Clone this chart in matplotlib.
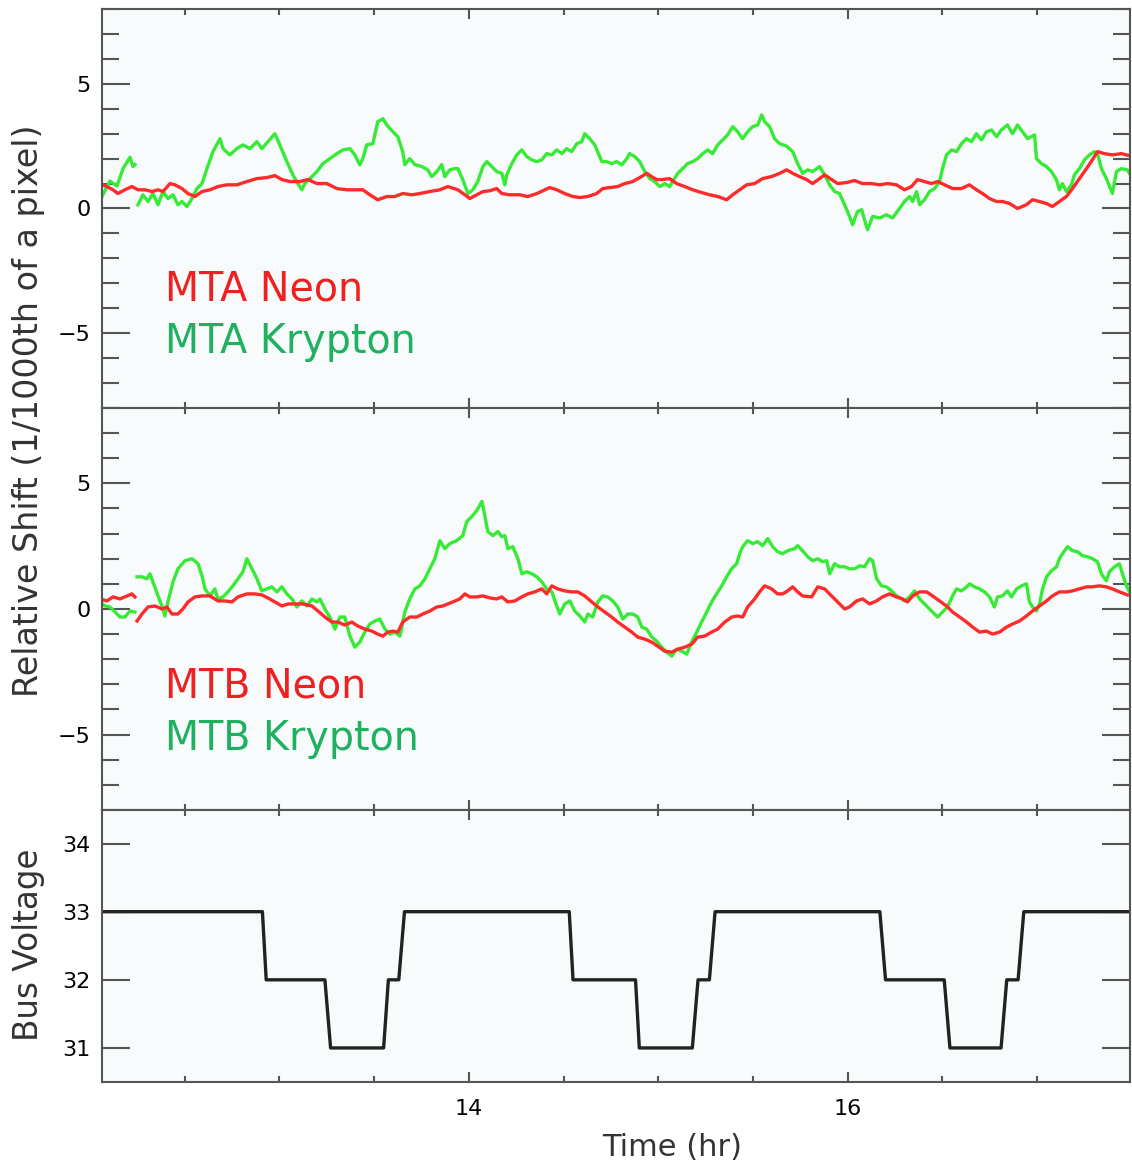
import numpy as np
import matplotlib.pyplot as plt
from matplotlib.ticker import MultipleLocator

nan = np.nan

# ---- MTA (top panel) ----
mta_ne_t = [12.063, 12.089, 12.121, 12.147, 12.184, 12.221, 12.253, 12.290, 12.327, 12.359,
            12.385, 12.422, 12.448, 12.485, 12.517, 12.554, 12.591, 12.633, 12.675, 12.723,
            12.775, 12.828, 12.881, 12.934, 12.976, 13.013, 13.055, 13.108, 13.150, 13.198,
            13.250, 13.303, 13.356, 13.409, 13.440, 13.477, 13.519, 13.567, 13.609, 13.651,
            13.699, 13.741, 13.794, 13.847, 13.889, 13.942, 13.979, 14.005, 14.042, 14.074,
            14.111, 14.147, 14.174, 14.216, 14.269, 14.311, 14.359, 14.390, 14.427, 14.464,
            14.506, 14.549, 14.586, 14.628, 14.675, 14.707, 14.744, 14.786, 14.823, 14.865,
            14.902, 14.939, 14.965, 14.992, 15.023, 15.060, 15.097, 15.140, 15.182, 15.229,
            15.271, 15.314, 15.361, 15.393, 15.430, 15.467, 15.509, 15.551, 15.598, 15.641,
            15.678, 15.710, 15.746, 15.783, 15.815, 15.852, 15.878, 15.915, 15.947, 15.994,
            16.036, 16.079, 16.126, 16.169, 16.211, 16.258, 16.300, 16.337, 16.369, 16.406,
            16.443, 16.475, 16.512, 16.554, 16.601, 16.643, 16.680, 16.712, 16.749, 16.786,
            16.818, 16.855, 16.897, 16.944, 16.976, 17.013, 17.050, 17.081, 17.118, 17.155,
            17.187, 17.224, 17.261, 17.292, 17.319, 17.356, 17.398, 17.445, 17.488]
mta_ne = [0.95, 0.88, 0.75, 0.6, 0.75, 0.88, 0.75, 0.75, 0.68, 0.75,
          0.68, 1.0, 0.95, 0.8, 0.6, 0.48, 0.68, 0.75, 0.88, 0.95,
          0.95, 1.08, 1.2, 1.24, 1.32, 1.16, 1.08, 1.08, 1.16, 1.0,
          1.0, 0.8, 0.75, 0.75, 0.75, 0.55, 0.35, 0.48, 0.48, 0.6,
          0.55, 0.6, 0.68, 0.75, 0.88, 0.75, 0.55, 0.4, 0.55, 0.68,
          0.71, 0.8, 0.6, 0.55, 0.55, 0.48, 0.6, 0.71, 0.84, 0.75,
          0.6, 0.48, 0.44, 0.48, 0.6, 0.8, 0.84, 0.88, 1.0, 1.08,
          1.24, 1.41, 1.28, 1.16, 1.16, 1.2, 1.0, 0.88, 0.75, 0.64,
          0.55, 0.48, 0.35, 0.55, 0.75, 0.95, 1.0, 1.2, 1.28, 1.41,
          1.55, 1.41, 1.28, 1.16, 1.0, 1.2, 1.35, 1.16, 1.0, 1.04,
          1.12, 1.0, 1.0, 0.95, 1.0, 0.95, 0.75, 0.88, 1.16, 1.08,
          1.0, 1.08, 0.95, 0.8, 0.8, 0.95, 0.75, 0.6, 0.4, 0.28,
          0.28, 0.2, 0.0, 0.15, 0.35, 0.28, 0.2, 0.08, 0.28, 0.48,
          0.8, 1.2, 1.6, 1.95, 2.28, 2.2, 2.15, 2.2, 2.12]

mta_kr_t = [12.058, 12.105, 12.142, 12.174, 12.211, 12.227, 12.237, nan,
            12.253, 12.279, 12.306, 12.332, 12.359, 12.385, 12.411, 12.438, 12.464, 12.485,
            12.512, 12.538, 12.564, 12.591, 12.617, 12.649, 12.686, 12.702, 12.738, 12.775,
            12.807, 12.844, 12.881, 12.907, 12.939, 12.976, 13.002, 13.039, 13.071, 13.097,
            13.118, 13.134, 13.161, 13.198, 13.229, 13.266, 13.303, 13.335, 13.372, 13.398,
            13.424, 13.440, 13.461, 13.493, 13.519, 13.546, 13.572, 13.599, 13.625, 13.651,
            13.662, 13.688, 13.715, 13.752, 13.783, 13.804, 13.831, 13.857, 13.873, 13.899,
            13.926, 13.942, 13.968, 13.995, 14.021, 14.047, 14.074, 14.095, 14.121, 14.147,
            14.174, 14.190, 14.200, 14.227, 14.253, 14.279, 14.306, 14.332, 14.359, 14.385,
            14.411, 14.438, 14.464, 14.491, 14.517, 14.543, 14.570, 14.596, 14.612, 14.638,
            14.665, 14.680, 14.702, 14.728, 14.754, 14.781, 14.807, 14.834, 14.849, 14.876,
            14.902, 14.929, 14.955, 14.981, 15.008, 15.034, 15.060, 15.076, 15.103, 15.129,
            15.155, 15.182, 15.208, 15.235, 15.261, 15.287, 15.314, 15.340, 15.366, 15.393,
            15.419, 15.445, 15.472, 15.498, 15.525, 15.546, 15.562, 15.588, 15.614, 15.641,
            15.678, 15.710, 15.736, 15.762, 15.789, 15.815, 15.852, 15.878, 15.905, 15.931,
            15.957, 15.984, 16.010, 16.026, 16.052, 16.074, 16.089, 16.105, 16.132, 16.169,
            16.205, 16.237, 16.274, 16.300, 16.327, 16.343, 16.364, 16.380, 16.406, 16.432,
            16.459, 16.485, 16.501, 16.522, 16.549, 16.575, 16.601, 16.628, 16.654, 16.680,
            16.707, 16.733, 16.760, 16.786, 16.812, 16.844, 16.870, 16.897, 16.923, 16.950,
            16.987, 16.997, 17.023, 17.050, 17.076, 17.102, 17.118, 17.134, 17.155, 17.182,
            17.197, 17.224, 17.250, 17.277, 17.303, 17.319, 17.340, 17.366, 17.398, 17.419,
            17.445, 17.477, 17.488]
mta_kr = [0.41, 1.1, 0.9, 1.6, 2.05, 1.68, 1.76, nan,
          0.15, 0.55, 0.28, 0.6, 0.15, 0.68, 0.4, 0.55, 0.15, 0.28,
          0.08, 0.4, 0.8, 1.0, 1.6, 2.28, 2.8, 2.4, 2.15, 2.4,
          2.55, 2.4, 2.68, 2.4, 2.68, 3.0, 2.55, 1.88, 1.35, 1.0,
          0.75, 1.0, 1.2, 1.48, 1.8, 2.0, 2.2, 2.35, 2.4, 2.15,
          1.75, 2.0, 2.55, 2.6, 3.48, 3.6, 3.3, 3.08, 2.88, 2.28,
          1.76, 2.0, 1.76, 1.68, 1.55, 1.28, 1.48, 1.76, 1.28, 1.55,
          1.6, 1.6, 1.16, 0.6, 0.75, 1.08, 1.68, 1.88, 1.68, 1.48,
          1.41, 0.95, 1.35, 1.8, 2.15, 2.35, 2.08, 1.95, 1.88, 1.95,
          2.2, 2.15, 2.35, 2.2, 2.4, 2.28, 2.6, 2.68, 3.0, 2.8,
          2.55, 2.28, 1.88, 1.88, 1.8, 1.88, 1.75, 2.0, 2.2, 2.08,
          1.88, 1.48, 1.2, 1.08, 0.88, 1.0, 0.88, 1.08, 1.41, 1.6,
          1.8, 1.88, 2.0, 2.2, 2.35, 2.2, 2.55, 2.75, 2.95, 3.28,
          3.08, 2.8, 3.08, 3.28, 3.35, 3.75, 3.48, 3.28, 2.8, 2.6,
          2.5, 2.28, 1.8, 1.41, 1.55, 1.48, 1.68, 1.35, 0.95, 0.68,
          0.6, 0.15, -0.32, -0.65, -0.12, -0.05, -0.45, -0.85, -0.32, -0.38,
          -0.25, -0.38, 0.0, 0.28, 0.48, 0.28, 0.68, 0.15, 0.35, 0.68,
          0.8, 1.08, 1.6, 2.15, 2.35, 2.28, 2.6, 2.8, 2.68, 3.0,
          2.75, 3.08, 3.15, 2.88, 3.15, 3.35, 3.0, 3.35, 3.08, 2.8,
          2.95, 2.0, 1.8, 1.68, 1.48, 1.16, 0.75, 1.0, 0.68, 0.95,
          1.35, 1.6, 1.95, 2.15, 2.28, 2.2, 1.6, 1.2, 0.6, 1.48,
          1.6, 1.55, 1.41]

# ---- MTB (middle panel) ----
mtb_ne_t = [12.052, 12.089, 12.121, 12.158, 12.195, 12.221, 12.237, nan,
            12.248, 12.274, 12.306, 12.343, 12.380, 12.406, 12.432, 12.464, 12.490, 12.517,
            12.554, 12.591, 12.633, 12.675, 12.712, 12.749, 12.781, 12.828, 12.870, 12.907,
            12.939, 12.976, 13.013, 13.045, 13.081, 13.124, 13.171, 13.203, 13.240, 13.277,
            13.308, 13.345, 13.382, 13.414, 13.451, 13.488, 13.519, 13.546, 13.572, 13.599,
            13.625, 13.651, 13.688, 13.725, 13.757, 13.794, 13.831, 13.863, 13.889, 13.915,
            13.952, 13.979, 14.005, 14.042, 14.074, 14.111, 14.147, 14.174, 14.206, 14.243,
            14.279, 14.311, 14.348, 14.385, 14.411, 14.438, 14.469, 14.506, 14.543, 14.575,
            14.612, 14.649, 14.681, 14.718, 14.754, 14.786, 14.823, 14.860, 14.892, 14.929,
            14.966, 14.997, 15.034, 15.071, 15.103, 15.140, 15.177, 15.208, 15.245, 15.282,
            15.314, 15.351, 15.388, 15.419, 15.446, 15.472, 15.509, 15.535, 15.562, 15.599,
            15.630, 15.657, 15.683, 15.710, 15.736, 15.762, 15.810, 15.842, 15.878, 15.915,
            15.947, 15.984, 16.010, 16.047, 16.079, 16.116, 16.152, 16.184, 16.221, 16.258,
            16.290, 16.316, 16.343, 16.380, 16.417, 16.448, 16.485, 16.522, 16.554, 16.591,
            16.628, 16.660, 16.696, 16.733, 16.765, 16.802, 16.839, 16.870, 16.907, 16.944,
            16.976, 17.013, 17.050, 17.081, 17.118, 17.155, 17.187, 17.224, 17.261, 17.292,
            17.329, 17.366, 17.398, 17.435, 17.477]
mtb_ne = [0.4, 0.32, 0.48, 0.4, 0.52, 0.6, 0.48, nan,
          -0.48, -0.2, 0.08, 0.12, 0.0, 0.08, -0.2, -0.2, 0.0, 0.28,
          0.48, 0.52, 0.52, 0.32, 0.32, 0.28, 0.48, 0.6, 0.6, 0.56,
          0.44, 0.28, 0.12, 0.2, 0.2, 0.2, 0.12, -0.08, -0.32, -0.52,
          -0.52, -0.64, -0.52, -0.68, -0.8, -0.88, -1.0, -1.08, -0.92, -0.88,
          -0.92, -0.52, -0.32, -0.32, -0.2, -0.08, 0.08, 0.12, 0.2, 0.28,
          0.4, 0.6, 0.48, 0.48, 0.52, 0.44, 0.4, 0.48, 0.28, 0.32,
          0.48, 0.6, 0.68, 0.8, 0.6, 0.92, 0.8, 0.72, 0.68, 0.68,
          0.52, 0.28, 0.08, -0.12, -0.32, -0.52, -0.72, -0.92, -1.12, -1.2,
          -1.32, -1.48, -1.68, -1.72, -1.6, -1.52, -1.4, -1.12, -1.08, -0.92,
          -0.8, -0.52, -0.32, -0.28, -0.32, 0.08, 0.4, 0.68, 0.92, 0.8,
          0.6, 0.6, 0.72, 0.88, 0.68, 0.52, 0.48, 0.88, 0.8, 0.52,
          0.28, 0.0, 0.08, 0.32, 0.4, 0.2, 0.32, 0.48, 0.6, 0.48,
          0.4, 0.28, 0.52, 0.68, 0.68, 0.52, 0.32, 0.12, -0.12, -0.32,
          -0.52, -0.72, -0.92, -0.88, -1.0, -0.92, -0.72, -0.6, -0.48, -0.28,
          -0.08, 0.12, 0.32, 0.52, 0.68, 0.68, 0.72, 0.8, 0.88, 0.88,
          0.92, 0.88, 0.8, 0.68, 0.56]

mtb_kr_t = [12.052, 12.079, 12.105, 12.132, 12.158, 12.184, 12.211, 12.237, nan,
            12.248, 12.274, 12.300, 12.316, 12.332, 12.359, 12.385, 12.395, 12.411, 12.438,
            12.464, 12.501, 12.538, 12.570, 12.591, 12.607, 12.633, 12.659, 12.675, 12.702,
            12.728, 12.754, 12.781, 12.807, 12.828, 12.855, 12.881, 12.907, 12.934, 12.960,
            12.986, 13.013, 13.039, 13.066, 13.092, 13.118, 13.145, 13.171, 13.198, 13.214,
            13.240, 13.266, 13.293, 13.319, 13.345, 13.372, 13.398, 13.424, 13.451, 13.477,
            13.504, 13.530, 13.557, 13.583, 13.609, 13.636, 13.662, 13.688, 13.715, 13.741,
            13.768, 13.794, 13.820, 13.847, 13.873, 13.899, 13.936, 13.968, 13.989, 14.016,
            14.042, 14.069, 14.084, 14.100, 14.127, 14.153, 14.174, 14.190, 14.206, 14.232,
            14.259, 14.280, 14.306, 14.332, 14.359, 14.385, 14.411, 14.438, 14.464, 14.480,
            14.506, 14.533, 14.559, 14.586, 14.612, 14.628, 14.654, 14.681, 14.707, 14.733,
            14.760, 14.786, 14.813, 14.839, 14.865, 14.892, 14.913, 14.939, 14.966, 14.992,
            15.018, 15.045, 15.071, 15.097, 15.124, 15.150, 15.176, 15.203, 15.229, 15.256,
            15.282, 15.308, 15.335, 15.361, 15.387, 15.414, 15.430, 15.446, 15.472, 15.499,
            15.525, 15.551, 15.578, 15.604, 15.630, 15.657, 15.683, 15.720, 15.736, 15.762,
            15.789, 15.815, 15.842, 15.868, 15.889, 15.905, 15.931, 15.958, 15.984, 16.010,
            16.037, 16.063, 16.089, 16.116, 16.132, 16.153, 16.179, 16.205, 16.232, 16.258,
            16.285, 16.300, 16.327, 16.353, 16.380, 16.406, 16.432, 16.459, 16.475, 16.501,
            16.527, 16.554, 16.575, 16.601, 16.628, 16.644, 16.670, 16.696, 16.723, 16.749,
            16.775, 16.791, 16.818, 16.844, 16.865, 16.892, 16.918, 16.944, 16.960, 16.976,
            16.997, 17.013, 17.029, 17.050, 17.076, 17.103, 17.118, 17.134, 17.161, 17.187,
            17.214, 17.240, 17.266, 17.293, 17.319, 17.340, 17.366, 17.382, 17.409, 17.435,
            17.451, 17.472, 17.488]
mtb_kr = [0.28, 0.12, 0.08, -0.12, -0.32, -0.32, -0.08, -0.12, nan,
          1.28, 1.28, 1.2, 1.4, 1.08, 0.52, 0.0, -0.28, 0.28, 1.08,
          1.6, 1.92, 2.0, 1.8, 1.32, 0.8, 0.52, 0.8, 0.4, 0.48,
          0.68, 0.92, 1.2, 1.48, 2.0, 1.6, 1.2, 0.72, 0.8, 0.88,
          0.68, 0.88, 0.6, 0.4, 0.08, 0.32, 0.12, 0.4, 0.28, 0.4,
          0.0, -0.32, -0.8, -0.32, -0.32, -1.08, -1.52, -1.32, -0.92, -0.6,
          -0.48, -0.4, -0.8, -1.0, -0.92, -1.08, -0.12, 0.4, 0.8, 0.92,
          1.2, 1.6, 2.0, 2.72, 2.4, 2.6, 2.72, 2.92, 3.48, 3.68,
          3.92, 4.28, 3.72, 3.08, 2.92, 3.08, 2.88, 2.92, 2.4, 2.48,
          2.0, 1.4, 1.48, 1.4, 1.28, 1.08, 0.8, 0.68, 0.12, -0.2,
          0.2, 0.32, -0.08, -0.28, -0.52, -0.2, -0.32, 0.28, 0.52, 0.48,
          0.32, 0.08, -0.4, -0.2, -0.2, -0.32, -0.72, -0.8, -1.12, -1.28,
          -1.52, -1.72, -1.88, -1.6, -1.68, -1.8, -1.32, -0.92, -0.52, -0.12,
          0.28, 0.6, 0.92, 1.28, 1.6, 1.8, 2.2, 2.48, 2.72, 2.6,
          2.68, 2.52, 2.8, 2.48, 2.28, 2.2, 2.32, 2.4, 2.52, 2.32,
          2.08, 1.92, 2.0, 1.88, 1.92, 1.4, 1.8, 1.68, 1.68, 1.6,
          1.6, 1.72, 1.68, 2.0, 1.92, 1.2, 0.92, 0.88, 0.72, 0.52,
          0.4, 0.32, 0.48, 0.72, 0.4, 0.2, 0.0, -0.2, -0.32, -0.12,
          0.08, 0.52, 0.8, 0.72, 0.88, 1.0, 0.88, 0.8, 0.68, 0.48,
          0.08, 0.48, 0.52, 0.72, 0.48, 0.8, 0.92, 1.0, 0.28, 0.08,
          -0.08, 0.2, 0.8, 1.28, 1.52, 1.68, 2.0, 2.2, 2.48, 2.32,
          2.28, 2.12, 2.08, 2.0, 1.88, 1.4, 1.12, 1.48, 1.68, 1.8,
          1.4, 0.92, 0.68]

# ---- Bus voltage (bottom panel) ----
bus_t = [12.05, 12.91, 12.93, 13.24, 13.27, 13.55, 13.575, 13.63, 13.66,
         14.53, 14.55, 14.88, 14.90, 15.18, 15.21, 15.27, 15.30,
         16.17, 16.20, 16.51, 16.54, 16.81, 16.84, 16.90, 16.93, 17.50]
bus_v = [33, 33, 32, 32, 31, 31, 32, 32, 33,
         33, 32, 32, 31, 31, 32, 32, 33,
         33, 32, 32, 31, 31, 32, 32, 33, 33]

red = '#ff2a2a'
green = '#36ea36'
txt_red = '#ee2020'
txt_green = '#1fb060'
bg = '#f8fbfc'
spine = '#555555'

fig = plt.figure(figsize=(11.32, 11.71), dpi=100)
xlim = (12.063, 17.49)
ax1 = fig.add_axes([0.0901, 0.6516, 0.908, 0.3407])
ax2 = fig.add_axes([0.0901, 0.3083, 0.908, 0.3433])
ax3 = fig.add_axes([0.0901, 0.0760, 0.908, 0.2327])

for ax in (ax1, ax2, ax3):
    ax.set_facecolor(bg)
    ax.set_xlim(*xlim)
    ax.xaxis.set_major_locator(MultipleLocator(2))
    ax.xaxis.set_minor_locator(MultipleLocator(0.5))
    for s in ax.spines.values():
        s.set_color(spine)
        s.set_linewidth(1.5)
    ax.tick_params(axis='x', which='both', direction='in', top=True, bottom=True,
                   color=spine, width=1.5)
    ax.tick_params(axis='x', which='major', length=7)
    ax.tick_params(axis='x', which='minor', length=4)
    ax.tick_params(axis='y', which='both', direction='in', left=True, right=True,
                   color=spine, width=1.5, labelsize=16, pad=8)
    ax.tick_params(axis='y', which='major', length=20)
    ax.tick_params(axis='y', which='minor', length=12)

for ax in (ax1, ax2):
    ax.set_ylim(-8, 8)
    ax.yaxis.set_major_locator(MultipleLocator(5))
    ax.yaxis.set_minor_locator(MultipleLocator(1))
    ax.tick_params(axis='x', labelbottom=False)

ax1.plot(mta_kr_t, mta_kr, color=green, lw=2.4)
ax1.plot(mta_ne_t, mta_ne, color=red, lw=2.4)
ax2.plot(mtb_kr_t, mtb_kr, color=green, lw=2.4)
ax2.plot(mtb_ne_t, mtb_ne, color=red, lw=2.4)

ax1.text(0.0613, 0.296, 'MTA Neon', color=txt_red, fontsize=28.5,
         transform=ax1.transAxes, va='center')
ax1.text(0.0613, 0.165, 'MTA Krypton', color=txt_green, fontsize=28.5,
         transform=ax1.transAxes, va='center')
ax2.text(0.0613, 0.308, 'MTB Neon', color=txt_red, fontsize=28.5,
         transform=ax2.transAxes, va='center')
ax2.text(0.0613, 0.177, 'MTB Krypton', color=txt_green, fontsize=28.5,
         transform=ax2.transAxes, va='center')

ax3.plot(bus_t, bus_v, color='#222222', lw=2.4)
ax3.set_ylim(30.5, 34.5)
ax3.set_yticks([31, 32, 33, 34])
ax3.tick_params(axis='x', labelsize=16, pad=12)

fig.text(0.025, 0.6495, 'Relative Shift (1/1000th of a pixel)', rotation=90,
         fontsize=24, ha='center', va='center', color='#333333')
fig.text(0.025, 0.193, 'Bus Voltage', rotation=90,
         fontsize=23.5, ha='center', va='center', color='#333333')
fig.text(0.594, 0.020, 'Time (hr)', fontsize=22, ha='center', va='center',
         color='#333333')

fig.savefig('out.png', dpi=100, facecolor='white')
